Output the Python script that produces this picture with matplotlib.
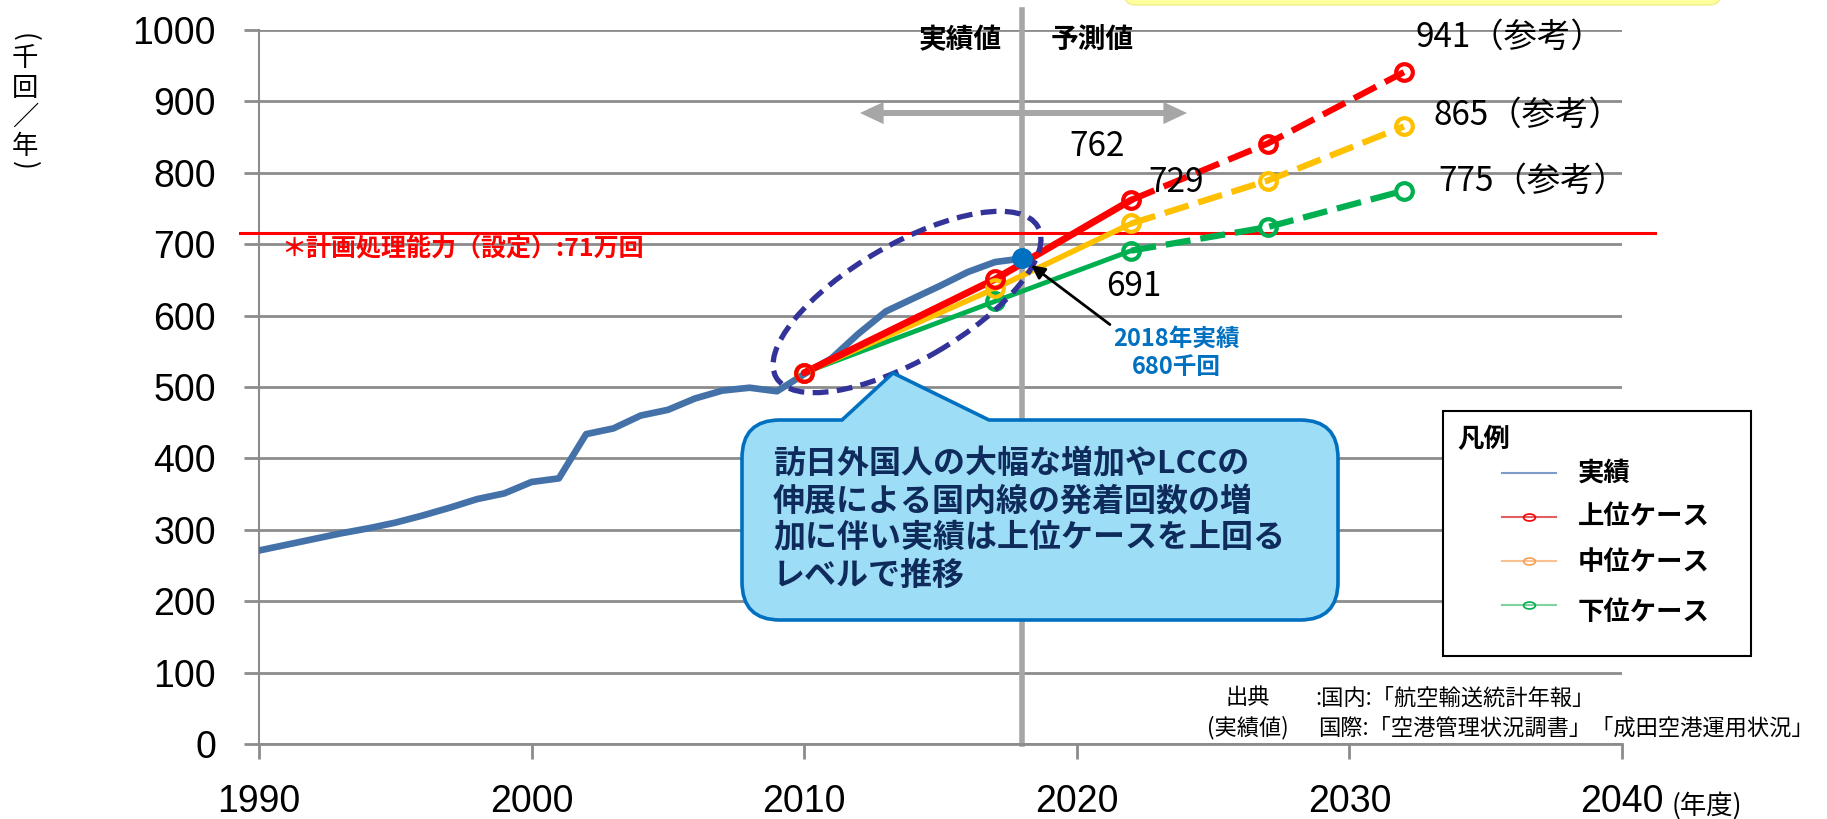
import matplotlib
matplotlib.use('Agg')
import matplotlib.pyplot as plt
from matplotlib.patches import Ellipse, FancyArrowPatch, PathPatch, Rectangle, FancyBboxPatch
from matplotlib.path import Path
from matplotlib.lines import Line2D
from matplotlib.transforms import IdentityTransform, Affine2D
from matplotlib.markers import MarkerStyle

W, H = 1827, 819
plt.rcParams['font.family'] = ['Noto Sans CJK JP', 'DejaVu Sans']

# ---------------- data ----------------
actual_years = list(range(1990, 2019))
actual_values = [271, 279, 287, 295, 302, 310, 320, 331, 343, 351,
                 367, 372, 434, 442, 460, 468, 484, 495, 499, 494,
                 518, 540, 575, 606, 624, 642, 661, 675, 680]
proj_years = [2010, 2017, 2022, 2027, 2032]
upper_case = [520, 651, 762, 841, 941]
middle_case = [520, 638, 729, 789, 865]
lower_case = [520, 620, 691, 724, 775]
capacity_value = 716
x_ticks = [1990, 2000, 2010, 2020, 2030, 2040]
y_ticks = list(range(0, 1001, 100))
legend_labels = ['実績', '上位ケース', '中位ケース', '下位ケース']

C_ACT = '#4472A8'
C_UP = '#FF0000'
C_MID = '#FFC000'
C_LOW = '#00B050'
GRID = '#8C8C8C'

fig = plt.figure(figsize=(W / 100, H / 100), dpi=100)
fig.patch.set_facecolor('white')
ax = fig.add_axes([259 / W, 1 - 744 / H, (1622 - 259) / W, (744 - 30) / H])
ax.set_xlim(1990, 2040)
ax.set_ylim(0, 1000)
ax.set_xticks(x_ticks)
ax.set_yticks(y_ticks)
ax.grid(axis='y', color=GRID, lw=2)
ax.set_axisbelow(True)
for s in ['top', 'right']:
    ax.spines[s].set_visible(False)
ax.spines['left'].set_color(GRID)
ax.spines['left'].set_linewidth(1.5)
ax.spines['bottom'].set_color(GRID)
ax.spines['bottom'].set_linewidth(2)
ax.tick_params(axis='y', length=11, width=2, color=GRID, pad=20, labelsize=27)
ax.tick_params(axis='x', length=11, width=2, color=GRID, pad=18, labelsize=27)
for lbl in ax.get_xticklabels() + ax.get_yticklabels():
    lbl.set_fontfamily('Liberation Sans')

def P(x, y):
    return (x, H - y)

# vertical separator 2018
ax.plot([2018, 2018], [0, 1028], color='#A6A6A6', lw=4, clip_on=False, zorder=2)

# capacity line
ax.plot([1989.3, 2041.2], [capacity_value, capacity_value], color='#FF0000', lw=2.2,
        clip_on=False, zorder=4)
fig.text(281 / W, 1 - 249 / H, '＊計画処理能力（設定）:71万回', color='#FF0000',
         fontsize=18, weight='bold', ha='left', va='center')

# actual
ax.plot(actual_years, actual_values, color=C_ACT, lw=4.8, zorder=3)

# scenarios
for vals, col, lw in [(lower_case, C_LOW, 3.5), (middle_case, C_MID, 4), (upper_case, C_UP, 5)]:
    ax.plot(proj_years[:3], vals[:3], color=col, lw=lw, zorder=4, solid_capstyle='round')
    ax.plot(proj_years[2:], vals[2:], color=col, lw=4.5, ls=(0, (4, 1.6)), zorder=4)
    ax.plot(proj_years, vals, 'o', mfc='none', mec=col, ms=12, mew=3, zorder=5)

# dashed ellipse
ax.add_patch(Ellipse(P(907, 302), width=302, height=116, angle=30, transform=IdentityTransform(),
                     fill=False, ec='#333399', lw=3.8, ls=(0, (3, 1.6)), zorder=6, clip_on=False))

# 2018 actual point
ax.plot([actual_years[-1]], [actual_values[-1]], 'o', color='#0070C0', ms=14, zorder=7)
ax.annotate('2018年実績\n680千回', xy=(actual_years[-1], actual_values[-1]),
            xytext=P(1176, 353), textcoords='figure pixels', ha='center', va='center',
            color='#0070C0', fontsize=17, weight='bold', linespacing=1.25,
            arrowprops=dict(arrowstyle='-|>', color='black', lw=2, mutation_scale=20,
                            shrinkA=0, shrinkB=8, relpos=(0.0, 1.0)), zorder=8)

# data labels
def lab(x, y, txt, dx, dy, ha='center'):
    ax.annotate(txt, xy=(x, y), xytext=(dx, dy), textcoords='offset pixels',
                ha=ha, va='center', fontsize=24, color='black', zorder=8)

lab(proj_years[2], upper_case[2], f'{upper_case[2]}', -34, 53)
lab(proj_years[2], middle_case[2], f'{middle_case[2]}', 45, 41)
lab(proj_years[2], lower_case[2], f'{lower_case[2]}', 2, -36)
lab(proj_years[4], upper_case[4], f'{upper_case[4]}（参考）', 12, 35, 'left')
lab(proj_years[4], middle_case[4], f'{middle_case[4]}（参考）', 30, 11, 'left')
lab(proj_years[4], lower_case[4], f'{lower_case[4]}（参考）', 34, 9, 'left')

# header texts
fig.text(960 / W, 1 - 40 / H, '実績値', fontsize=20, weight='bold', ha='center', va='center')
fig.text(1092 / W, 1 - 40 / H, '予測値', fontsize=20, weight='bold', ha='center', va='center')

# double arrow
for xe in (860, 1187):
    fig.add_artist(FancyArrowPatch(P(1023, 113), P(xe, 113), transform=IdentityTransform(),
                                   arrowstyle='simple,head_length=17,head_width=16,tail_width=4.3',
                                   mutation_scale=1, color='#A6A6A6', lw=0, shrinkA=0, shrinkB=0))

# yellow box at top (cut off)
fig.add_artist(FancyBboxPatch(P(1124, 5), 597, 30, boxstyle='round,pad=0,rounding_size=12',
                              transform=IdentityTransform(), fc='#FFFF9E', ec='#F2EE8A', lw=1))

# callout
x0, x1, yt, yb, r = 742, 1338, 420, 620, 38
pts = [((x0 + r, yt), Path.MOVETO), ((842, yt), Path.LINETO), ((893, 373), Path.LINETO),
       ((989, yt), Path.LINETO), ((x1 - r, yt), Path.LINETO),
       ((x1, yt), Path.CURVE3), ((x1, yt + r), Path.CURVE3),
       ((x1, yb - r), Path.LINETO), ((x1, yb), Path.CURVE3), ((x1 - r, yb), Path.CURVE3),
       ((x0 + r, yb), Path.LINETO), ((x0, yb), Path.CURVE3), ((x0, yb - r), Path.CURVE3),
       ((x0, yt + r), Path.LINETO), ((x0, yt), Path.CURVE3), ((x0 + r, yt), Path.CURVE3),
       ((x0 + r, yt), Path.CLOSEPOLY)]
path = Path([P(*p) for p, _ in pts], [c for _, c in pts])
fig.add_artist(PathPatch(path, fc='#9EDDF6', ec='#0070C0', lw=2.6, transform=IdentityTransform(),
                         zorder=10))
fig.text(773 / W, 1 - 520 / H,
         '訪日外国人の大幅な増加やLCCの\n伸展による国内線の発着回数の増\n加に伴い実績は上位ケースを上回る\nレベルで推移',
         fontsize=23, weight='bold', color='#0F2B5B', ha='left', va='center', linespacing=1.2,
         zorder=11)

# legend
fig.add_artist(Rectangle(P(1443, 656), 308, 245, transform=IdentityTransform(), fc='white',
                         ec='black', lw=1.5, zorder=10))
fig.text(1457 / W, 1 - 440 / H, '凡例', fontsize=19, weight='bold', ha='left', va='center', zorder=11)
leg_styles = [('#7F9CC8', None), ('#E06060', C_UP), ('#FAC090', '#F5A050'), ('#7FD3A0', C_LOW)]
leg_line_y = [473, 517, 561, 605]
leg_text_y = [473, 517, 562, 612]
ell = MarkerStyle('o', transform=Affine2D().scale(1.7, 1.0))
for (lc, mc), ly, ty, name in zip(leg_styles, leg_line_y, leg_text_y, legend_labels):
    fig.add_artist(Line2D([P(1502, ly)[0], P(1556, ly)[0]], [P(1502, ly)[1], P(1556, ly)[1]],
                          color=lc, lw=1.5, transform=IdentityTransform(), zorder=11))
    if mc is not None:
        fig.add_artist(Line2D([P(1529, ly)[0]], [P(1529, ly)[1]], marker=ell, ms=5, mfc='none',
                              mec=mc, mew=1.2, transform=IdentityTransform(), zorder=12))
    fig.text(1578 / W, 1 - ty / H, name, fontsize=19, weight='bold', ha='left', va='center',
             zorder=11)

# y axis unit (vertical writing)
fig.text(25 / W, 1 - 37 / H, '(', fontsize=19, ha='center', va='center', rotation=-90)
for ch, yy in zip(['千', '回', '／', '年'], [59, 88, 117, 146]):
    fig.text(25 / W, 1 - yy / H, ch, fontsize=19, ha='center', va='center')
fig.text(25 / W, 1 - 165 / H, ')', fontsize=19, ha='center', va='center', rotation=-90)

# x unit
fig.text(1672 / W, 1 - 806 / H, '(年度)', fontsize=19, ha='left', va='center')

# source
fig.text(1225 / W, 1 - 698 / H, '出典', fontsize=16, ha='left', va='center')
fig.text(1315 / W, 1 - 698 / H, ':国内:「航空輸送統計年報」', fontsize=16, ha='left', va='center')
fig.text(1207 / W, 1 - 728 / H, '(実績値)', fontsize=16, ha='left', va='center')
fig.text(1318 / W, 1 - 728 / H, '国際:「空港管理状況調書」「成田空港運用状況」', fontsize=16,
         ha='left', va='center')

fig.savefig('out.png', dpi=100, facecolor='white')
